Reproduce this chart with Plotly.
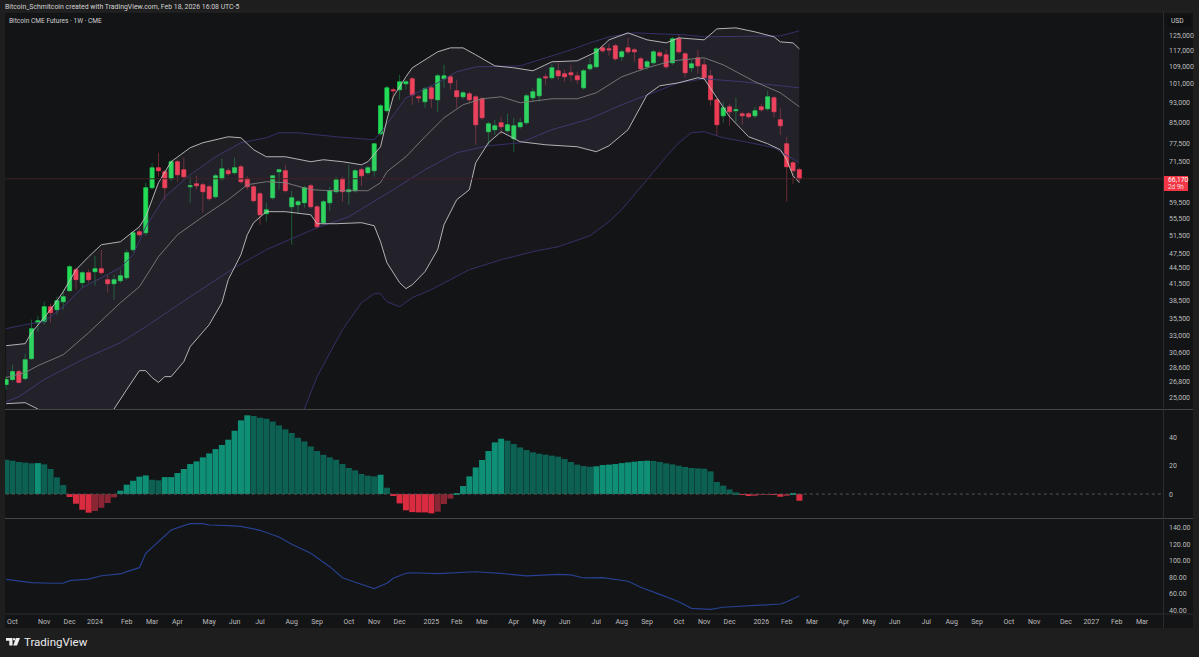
import pandas as pd
import plotly.graph_objects as go
import math

W, H = 1199, 657
START = pd.Timestamp("2023-10-02")
FIRST = -1

opens = [26490,27090,28050,27210,29710,34880,35040,37440,36950,38280,40220,44150,41670,43570,43760,44350,42230,41480,42040,42600,
 48260,52280,52050,63580,69500,68280,66190,71390,68890,63860,64730,64440,63860,61080,66190,68590,67980,69800,66190,63860,
 61910,56640,60810,68280,68590,58420,58950,59480,64140,58420,54420,59480,62470,66190,62470,62750,68890,67980,68590,80850,
 89570,98330,98330,100990,103270,95300,93220,99200,94060,103270,104180,97900,95300,96590,95300,94470,81580,82310,84910,81950,
 79080,83400,84910,94880,95720,104180,103720,107000,105590,106060,104630,99200,107960,108910,118500,117980,119560,113860,118500,117460,
 112860,108910,110880,115910,114880,110880,123350,115400,108430,113360,109890,104630,94060,87580,91160,89570,88370,88370,87580,91160,
 90360,94880,86060,77340,71070,68890]
closes = [27090,28050,26730,29580,33960,35190,37440,36460,38450,39150,44740,42230,43570,42230,44350,43570,41480,42230,42980,47620,
 52050,51580,63580,69500,68590,63580,71390,67370,66770,64140,64140,62470,60550,67060,69190,67670,69500,65310,63860,60010,
 56380,57660,67060,68890,62750,60810,59750,63580,58420,53450,59750,62750,65890,62470,63030,68590,67060,69500,77340,91560,
 99200,97900,101900,101900,96150,94880,98770,94470,104630,104630,101440,95300,97030,94060,84150,86820,84530,83770,83400,84150,
 83770,84910,95720,97460,103270,103720,108430,104630,104180,105110,102810,107000,109890,117980,116940,117460,112860,116430,116430,116430,
 107960,111370,116430,114360,108910,123350,116430,106060,110380,109390,103720,94060,84150,90760,89170,89960,87580,87200,89570,89960,
 95300,89170,83770,69800,68590,66170]
highs = [27550,28930,28290,30380,35350,35980,38280,37940,39150,40400,45140,44540,43950,44150,46980,48260,43170,43170,44150,48260,
 52520,52980,65020,71070,74300,68890,72020,72020,72660,66770,67060,65020,64440,67670,72340,69500,72660,70430,67060,64440,
 62470,59480,67370,68890,70430,62750,60280,64140,64730,58950,60280,63860,66770,66770,70430,69190,69500,70110,77680,92390,
 100080,99200,105110,102810,104180,96150,99640,100080,105590,109890,105110,102810,97900,97460,96150,95300,85290,86060,87200,88370,
 86820,86820,96590,99200,104180,105590,110380,110880,107480,109890,106530,107960,113360,119030,120090,120620,120620,117460,123890,118500,
 113860,112360,117460,116940,117460,124450,126120,116430,112360,117460,112860,107480,94880,93220,92390,94880,89170,89170,91160,92390,
 97900,95720,90760,79770,71700,69500]
lows = [25890,26850,26610,26970,29580,33500,34570,34880,36140,36950,40040,40400,40750,41670,41110,43170,39870,38620,41670,42230,
 47800,51120,51350,63030,66770,60280,65600,65310,65890,59480,63030,56890,60010,60550,65600,67060,67370,64730,63030,59480,
 53930,54660,60280,63030,62190,49340,56890,58170,57910,52980,53930,57400,61910,59750,58950,62190,64140,67370,66770,80120,
 88770,94880,94060,98330,91980,92810,90760,90760,89170,99200,98330,90760,94060,92810,76990,86060,76990,80490,80490,81220,
 74640,82670,84150,93220,93220,100530,102810,102810,101900,101900,100990,98330,107000,108430,115910,114360,111870,111870,115400,111370,
 107000,107480,109890,113360,107960,109890,115400,103720,106530,105590,102810,91560,80120,84910,83770,85290,84150,86440,86820,89170,
 89570,86820,80490,59750,64730,65310]

hist_values = [24.5,23.8,22.9,22.4,21.9,22.1,21.2,17.9,11.9,6.4,-2.1,-6.9,-11.2,-13.3,-12.1,-9.8,-6.4,-2.4,2.4,6.7,
 9.5,12.4,13.3,10.2,9.8,12.1,12.1,15,17.9,21.4,23.3,26.2,29,32.1,35,38.8,45.2,52.6,56.2,55.7,
 54.5,53.8,51.7,49,46.2,43.6,40.2,37.6,34,30.7,28,26.2,24.5,21.4,18.6,16.9,14.3,13.1,12.6,13.8,
 4.5,-1,-6.7,-11.6,-12.9,-13.1,-13.1,-13.8,-12.6,-7.1,-3.3,0.7,5.7,12.6,19,24.3,30.7,36.9,39.5,38.1,
 35.7,33.3,31.4,29.8,28.8,28.1,27.4,26.7,25,22.9,21,20,19.5,19.8,20.7,21,21.4,22.1,22.6,23.1,
 23.6,23.8,23.6,22.9,21.9,21.2,20.2,19.3,18.6,18.3,18.1,16.2,8.6,6,3.3,1.2,-0.3,-1,-0.7,-0.3,
 -0.2,-0.3,-1.9,-1,0.5,-4.8]

blue_weeks = [-1,1,3,6,8,9,12,14,17,18,20,21,23,24,25,27,28,30,31,34,36,39,42,44,47,50,52,54,57,59,60,62,63,67,70,73,77,81,86,88,90,93,97,99,102,105,107,110,112,116,118,121,122,124]
blue_values = [77.6,75.9,73.5,72.8,73.1,75.9,77.9,81.9,84,86.8,91.6,108.9,122.9,128.9,137,142.2,144.6,144.6,143,142.2,141.4,136.6,128.5,119.8,108.9,92.8,79.5,74,66.3,72.8,78.8,84.8,85.5,84.3,85.2,86.7,84.8,81.6,83.6,82.8,79.2,79.5,75.2,68,59.5,50.6,42.6,41.4,43.9,45.8,47,47.8,50.6,57.5]

upper_weeks = [-1,2,3,6,8,10,12,14,17,19,20,21,23,25,28,30,32,34,36,38,40,43,47,49,52,55,56,58,59,60,62,63,65,67,69,71,73,76,79,82,85,89,92,94,97,100,103,105,109,111,114,117,120,121,123,124]
upper_values = [31480,31770,33350,36950,40040,44150,46770,49340,49990,52280,53450,55880,65020,71390,75970,77680,78730,79770,79420,75300,72980,72980,71390,72020,71390,70430,71390,76300,86060,95300,104180,108430,112360,116430,118500,118500,114880,109390,108430,107000,111370,111870,116430,122800,126680,122800,121160,123890,122800,128950,129530,127240,124450,121700,121160,117980]
basis_weeks = [-1,2,4,8,12,17,20,23,26,30,34,37,40,43,47,50,56,58,59,62,65,68,71,74,77,80,85,89,92,94,96,100,104,109,112,117,121,124]
basis_values = [27310,27920,28800,30240,33350,38110,40930,46770,51580,55880,60280,64440,65310,65020,63030,62750,62750,65020,68280,72980,79770,86820,91980,94470,95300,92810,94470,94470,97030,100530,104180,108430,111870,113360,109890,101900,97030,91160]
lower_weeks = [-1,2,4,8,12,16,18,20,21,22,23,24,25,27,28,31,33,34,36,37,38,40,43,47,48,51,55,57,58,59,61,62,63,65,67,68,70,72,73,75,77,80,84,89,92,94,97,100,102,105,108,109,111,113,116,119,121,122,123,124]
lower_values = [24320,24430,23750,22190,21500,23750,25890,28170,28170,27310,26730,27430,27430,29320,31340,34570,38110,42230,47190,51580,54420,57150,57150,56380,54170,54170,54420,53690,49990,45540,41670,40580,41290,43760,48260,53930,60280,63030,71070,77680,81580,78030,76990,76300,74640,76640,82310,96150,100080,101440,103720,103270,94880,87200,79770,77340,75300,72020,67060,65020]

wide_upper_weeks = [-1,2,5,8,11,17,19,21,24,28,32,36,40,42,45,51,57,58,62,67,70,73,80,82,88,91,94,98,106,109,117,121,124]
wide_upper_values = [33960,34570,35040,37440,40750,44540,47190,53450,61080,67370,72980,77680,79420,81220,81220,79770,78730,81220,94880,101440,106530,108910,109390,111370,117460,121160,124450,126680,125550,124450,125000,125000,127830]
wide_mid_weeks = [-1,1,5,11,17,21,28,35,40,48,53,57,60,65,70,75,80,85,91,96,100,105,109,115,124]
wide_mid_values = [24530,25090,27090,29580,31900,34260,39150,44540,48260,53220,55880,59750,63030,68890,74300,76640,77680,82310,86440,91980,96150,101440,103270,101900,99200]
wide_lower_weeks = [-1,20,35,46,48,52,55,57,58,59,61,63,66,72,77,82,86,91,94,96,100,103,105,107,109,112,117,120,124]
wide_lower_values = [17760,14550,17380,23750,27430,33800,38110,39670,39670,38280,37440,38970,40400,44150,46140,47840,48900,51350,54660,57660,65890,72980,77680,81220,81580,79420,77340,75970,71070]

price_ticks = [125000,117000,109000,101000,93000,85000,77500,71500,59500,55500,51500,47500,44500,41500,38500,35500,33000,30600,28600,26800,25000]
hist_ticks = [40,20,0]
blue_ticks = [140,120,100,80,60,40]
time_weeks = [0,5,9,13,18,22,26,31,35,39,44,48,53,57,61,66,70,74,79,83,87,92,96,100,105,109,113,118,122,126,131,135,139,144,148,152,157,161,166,170,174,178]
time_labels = ["Oct","Nov","Dec","2024","Feb","Mar","Apr","May","Jun","Jul","Aug","Sep","Oct","Nov","Dec","2025","Feb","Mar","Apr","May","Jun","Jul","Aug","Sep","Oct","Nov","Dec","2026","Feb","Mar","Apr","May","Jun","Jul","Aug","Sep","Oct","Nov","Dec","2027","Feb","Mar"]
last_price = 66170

assert len(opens) == len(closes) == len(highs) == len(lows) == len(hist_values) == 126
for a, b in [(blue_weeks, blue_values), (upper_weeks, upper_values), (basis_weeks, basis_values), (lower_weeks, lower_values),
             (wide_upper_weeks, wide_upper_values), (wide_mid_weeks, wide_mid_values), (wide_lower_weeks, wide_lower_values)]:
    assert len(a) == len(b)

def week(i):
    return START + pd.Timedelta(days=7 * i)
def weeks(lst):
    return [week(i) for i in lst]
def px(x):
    return x / W
def py(y):
    return 1 - y / H

dates = [week(i) for i in range(FIRST, FIRST + len(opens))]
BG = "#131416"; OUTER = "#1e1e1e"; FONT = "Roboto"; TXT = "#bdbdbd"
UP = "#22dd55"; DN = "#f43b52"; UPW = "#145f32"; DNW = "#6b2a34"

fig = go.Figure()
# bands
fig.add_trace(go.Scatter(x=weeks(wide_upper_weeks), y=wide_upper_values, mode="lines", line=dict(color="#3a3270", width=0.9), xaxis="x", yaxis="y"))
fig.add_trace(go.Scatter(x=weeks(wide_lower_weeks), y=wide_lower_values, mode="lines", line=dict(color="#3a3270", width=0.9), fill="tonexty", fillcolor="rgba(130,100,170,0.045)", xaxis="x", yaxis="y"))
fig.add_trace(go.Scatter(x=weeks(wide_mid_weeks), y=wide_mid_values, mode="lines", line=dict(color="#3a3270", width=0.9), xaxis="x", yaxis="y"))
fig.add_trace(go.Scatter(x=weeks(upper_weeks), y=upper_values, mode="lines", line=dict(color="#c4c4c4", width=0.9), xaxis="x", yaxis="y"))
fig.add_trace(go.Scatter(x=weeks(lower_weeks), y=lower_values, mode="lines", line=dict(color="#c4c4c4", width=0.9), fill="tonexty", fillcolor="rgba(190,170,210,0.07)", xaxis="x", yaxis="y"))
fig.add_trace(go.Scatter(x=weeks(basis_weeks), y=basis_values, mode="lines", line=dict(color="#7e7e7e", width=0.9), xaxis="x", yaxis="y"))
# wicks
fig.add_trace(go.Candlestick(x=dates, open=opens, high=highs, low=lows, close=closes, whiskerwidth=0,
    increasing=dict(line=dict(color=UPW, width=1), fillcolor=UPW), decreasing=dict(line=dict(color=DNW, width=1), fillcolor=DNW), xaxis="x", yaxis="y"))
# bodies
body_hi = [max(o, c) for o, c in zip(opens, closes)]
body_lo = [min(o, c) for o, c in zip(opens, closes)]
fig.add_trace(go.Candlestick(x=dates, open=opens, high=body_hi, low=body_lo, close=closes, whiskerwidth=0,
    increasing=dict(line=dict(color=UP, width=0.5), fillcolor=UP), decreasing=dict(line=dict(color=DN, width=0.5), fillcolor=DN), xaxis="x", yaxis="y"))
# last price line
fig.add_trace(go.Scatter(x=[week(-2), week(190)], y=[last_price, last_price], mode="lines", line=dict(color="#3f2227", width=1), xaxis="x", yaxis="y"))
# histogram
colors = []
for k, v in enumerate(hist_values):
    prev = hist_values[k - 1] if k else v + 1
    if v >= 0:
        colors.append("#0e8f76" if v >= prev else "#0c6153")
    else:
        colors.append("#d92c41" if v <= prev else "#8a2633")
fig.add_trace(go.Bar(x=dates, y=hist_values, marker=dict(color=colors, line=dict(width=0)), xaxis="x2", yaxis="y2"))
fig.add_trace(go.Scatter(x=[week(-2), week(190)], y=[0, 0], mode="lines", line=dict(color="#555555", width=1, dash="dot"), xaxis="x2", yaxis="y2"))
# blue line
fig.add_trace(go.Scatter(x=weeks(blue_weeks), y=blue_values, mode="lines", line=dict(color="#27408f", width=1.2), xaxis="x3", yaxis="y3"))

xr = [week(-1.18), week(181.3)]
tf = dict(family=FONT, size=7, color=TXT)
common_x = dict(range=xr, type="date", showgrid=False, zeroline=False, showline=False, fixedrange=True)
dom = [px(5), px(1163)]
fig.update_layout(
    width=W, height=H, autosize=False, margin=dict(l=0, r=0, t=0, b=0), showlegend=False,
    paper_bgcolor=OUTER, plot_bgcolor=BG, bargap=0.05, boxgap=0.1, hovermode=False,
    xaxis=dict(common_x, domain=dom, anchor="y", showticklabels=False, rangeslider=dict(visible=False)),
    xaxis2=dict(common_x, domain=dom, anchor="y2", showticklabels=False),
    xaxis3=dict(common_x, domain=dom, anchor="y3", tickmode="array", tickvals=weeks(time_weeks), ticktext=time_labels,
                tickangle=0, ticks="", tickfont=tf, ticklabelstandoff=2),
    yaxis=dict(type="log", domain=[py(409), py(12)], range=[math.log10(23750), math.log10(139000)], side="right", anchor="x",
               tickmode="array", tickvals=price_ticks, ticktext=[f"{v:,}" for v in price_ticks], tickfont=tf, ticks="",
               ticklabelstandoff=5, showgrid=False, zeroline=False, showline=False),
    yaxis2=dict(domain=[py(518), py(410)], range=[-17.1, 60], side="right", anchor="x2", tickmode="array", tickvals=hist_ticks,
                ticktext=[str(v) for v in hist_ticks], tickfont=tf, ticks="", ticklabelstandoff=5, showgrid=False, zeroline=False, showline=False),
    yaxis3=dict(domain=[py(614), py(519)], range=[35.8, 150.2], side="right", anchor="x3", tickmode="array", tickvals=blue_ticks,
                ticktext=[f"{v:.2f}" for v in blue_ticks], tickfont=tf, ticks="", ticklabelstandoff=5, showgrid=False, zeroline=False, showline=False),
)

def rect(x0, y0, x1, y1, color, layer="below"):
    return dict(type="rect", xref="paper", yref="paper", x0=px(x0), x1=px(x1), y0=py(y0), y1=py(y1), fillcolor=color, line=dict(width=0), layer=layer)
def line(x0, y0, x1, y1, color, width=1):
    return dict(type="line", xref="paper", yref="paper", x0=px(x0), x1=px(x1), y0=py(y0), y1=py(y1), line=dict(color=color, width=width), layer="above")
def poly(points, color):
    path = "M " + " L ".join(f"{px(a)} {py(b)}" for a, b in points) + " Z"
    return dict(type="path", xref="paper", yref="paper", path=path, fillcolor=color, line=dict(width=0), layer="above")

shapes = [
    rect(5, 12, 1193, 628, BG),
    line(5, 409.5, 1193, 409.5, "#454545", 1),
    line(5, 518.5, 1193, 518.5, "#454545", 1),
    line(1163.5, 12, 1163.5, 628, "#2c2c2c", 1),
    line(5, 614, 1193, 614, "#2c2c2c", 1),
    line(5, 12, 1193, 12, "#262626", 1),
    rect(1167, 15.5, 1191, 27, "#0f1012", "above"),
    rect(1164, 176, 1188, 191, "#f23645", "above"),
    poly([(6, 638), (12.5, 638), (12.5, 645.5), (9.3, 645.5), (9.3, 640.8), (6, 640.8)], "#f0f0f0"),
    poly([(16, 638), (20, 638), (17, 645.5), (13.2, 645.5)], "#f0f0f0"),
    dict(type="circle", xref="paper", yref="paper", x0=px(13), x1=px(15.4), y0=py(640.4), y1=py(638), fillcolor="#f0f0f0", line=dict(width=0), layer="above"),
]
fig.update_layout(shapes=shapes)

def note(x, y, text, size=7, color=TXT, anchor="left", family=FONT):
    fig.add_annotation(xref="paper", yref="paper", x=px(x), y=py(y), text=text, showarrow=False, xanchor=anchor, yanchor="middle",
                       font=dict(family=family, size=size, color=color), borderpad=0, borderwidth=0)

note(5, 7, "Bitcoin_Schmitcoin created with TradingView.com, Feb 18, 2026 16:08 UTC-5", 6.9, "#d2d2d2")
note(9, 20.5, "Bitcoin CME Futures · 1W · CME", 6.6, "#cfcfcf")
note(1170.5, 21, "USD", 6.6, "#cfcfcf")
note(1168, 180, "66,170", 6.8, "#ffffff")
note(1168, 187, "2d 9h", 6.4, "#ffd9dc")
note(24, 642, "TradingView", 11.5, "#ececec")

fig.write_html("out.html", config=dict(displayModeBar=False),
               post_script="document.body.style.margin='0';document.documentElement.style.overflow='hidden';document.documentElement.style.background='#1e1e1e';")
